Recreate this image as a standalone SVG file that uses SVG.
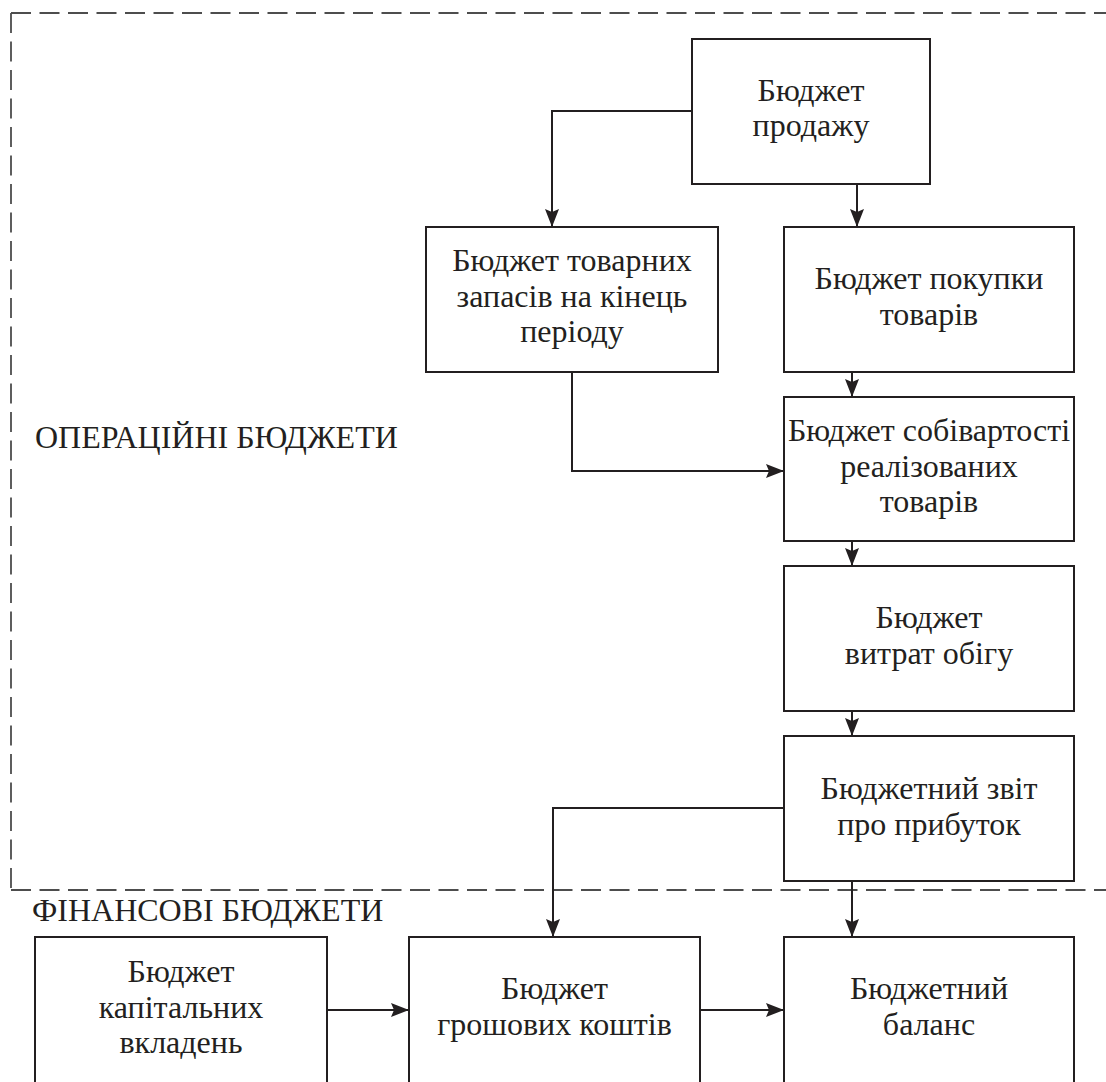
<svg xmlns="http://www.w3.org/2000/svg" width="1106" height="1082" viewBox="0 0 1106 1082">
  <defs>
    <marker id="arrow" viewBox="0 0 18 14" refX="18" refY="7" markerWidth="18" markerHeight="14" markerUnits="userSpaceOnUse" orient="auto">
      <path d="M0,0 L18,7 L0,14 L3,7 Z" fill="#231f20"/>
    </marker>
    <style>
      .box { fill: #ffffff; stroke: #231f20; stroke-width: 2; }
      text { font-family: 'Liberation Serif', 'Times New Roman', 'DejaVu Serif', serif; font-size: 32px; fill: #231f20; }
      .lbl { text-anchor: middle; }
      .edge { fill: none; stroke: #231f20; stroke-width: 2; }
      .zone { fill: none; stroke: #4d4d4d; stroke-width: 1.8; stroke-dasharray: 20 8.5; }
    </style>
  </defs>
  <rect width="1106" height="1082" fill="#ffffff"/>

  <!-- operating budgets frame -->
  <g id="operating-zone">
    <path class="zone" d="M11,13 H1106"/>
    <path class="zone" d="M11,13 V890"/>
    <path class="zone" d="M11,890 H1106"/>
    <text x="35" y="448">ОПЕРАЦІЙНІ БЮДЖЕТИ</text>
  </g>
  <g id="financial-label">
    <text x="32" y="921">ФІНАНСОВІ БЮДЖЕТИ</text>
  </g>

  <!-- connectors -->
  <g id="connectors">
    <path class="edge" d="M692,111 H552 V227" marker-end="url(#arrow)"/>
    <path class="edge" d="M857,184 V227" marker-end="url(#arrow)"/>
    <path class="edge" d="M852,372 V397" marker-end="url(#arrow)"/>
    <path class="edge" d="M572,372 V471 H784" marker-end="url(#arrow)"/>
    <path class="edge" d="M852,541 V566" marker-end="url(#arrow)"/>
    <path class="edge" d="M852,711 V736" marker-end="url(#arrow)"/>
    <path class="edge" d="M784,808 H553 V937" marker-end="url(#arrow)"/>
    <path class="edge" d="M852,881 V937" marker-end="url(#arrow)"/>
    <path class="edge" d="M327,1010 H409" marker-end="url(#arrow)"/>
    <path class="edge" d="M700,1010 H784" marker-end="url(#arrow)"/>
  </g>

  <g id="sales-budget">
    <rect class="box" x="692" y="39" width="238" height="145"/>
    <text class="lbl" x="811" y="101">Бюджет</text>
    <text class="lbl" x="811" y="136">продажу</text>
  </g>

  <g id="inventory-budget">
    <rect class="box" x="426" y="227" width="292" height="145"/>
    <text class="lbl" x="572" y="271">Бюджет товарних</text>
    <text class="lbl" x="572" y="306.5">запасів на кінець</text>
    <text class="lbl" x="572" y="342">періоду</text>
  </g>

  <g id="purchase-budget">
    <rect class="box" x="784" y="227" width="290" height="145"/>
    <text class="lbl" x="929" y="289">Бюджет покупки</text>
    <text class="lbl" x="929" y="324.5">товарів</text>
  </g>

  <g id="cost-of-goods-budget">
    <rect class="box" x="784" y="397" width="290" height="144"/>
    <text class="lbl" x="929" y="441">Бюджет собівартості</text>
    <text class="lbl" x="929" y="476.5">реалізованих</text>
    <text class="lbl" x="929" y="512">товарів</text>
  </g>

  <g id="distribution-cost-budget">
    <rect class="box" x="784" y="566" width="290" height="145"/>
    <text class="lbl" x="929" y="628">Бюджет</text>
    <text class="lbl" x="929" y="663.5">витрат обігу</text>
  </g>

  <g id="income-statement">
    <rect class="box" x="784" y="736" width="290" height="145"/>
    <text class="lbl" x="929" y="799">Бюджетний звіт</text>
    <text class="lbl" x="929" y="834.5">про прибуток</text>
  </g>

  <g id="capital-budget">
    <rect class="box" x="35" y="937" width="292" height="146"/>
    <text class="lbl" x="181" y="982">Бюджет</text>
    <text class="lbl" x="181" y="1017.5">капітальних</text>
    <text class="lbl" x="181" y="1053">вкладень</text>
  </g>

  <g id="cash-budget">
    <rect class="box" x="409" y="937" width="291" height="146"/>
    <text class="lbl" x="554.5" y="999">Бюджет</text>
    <text class="lbl" x="554.5" y="1034.5">грошових коштів</text>
  </g>

  <g id="balance-budget">
    <rect class="box" x="784" y="937" width="290" height="146"/>
    <text class="lbl" x="929" y="999">Бюджетний</text>
    <text class="lbl" x="929" y="1034.5">баланс</text>
  </g>
</svg>
